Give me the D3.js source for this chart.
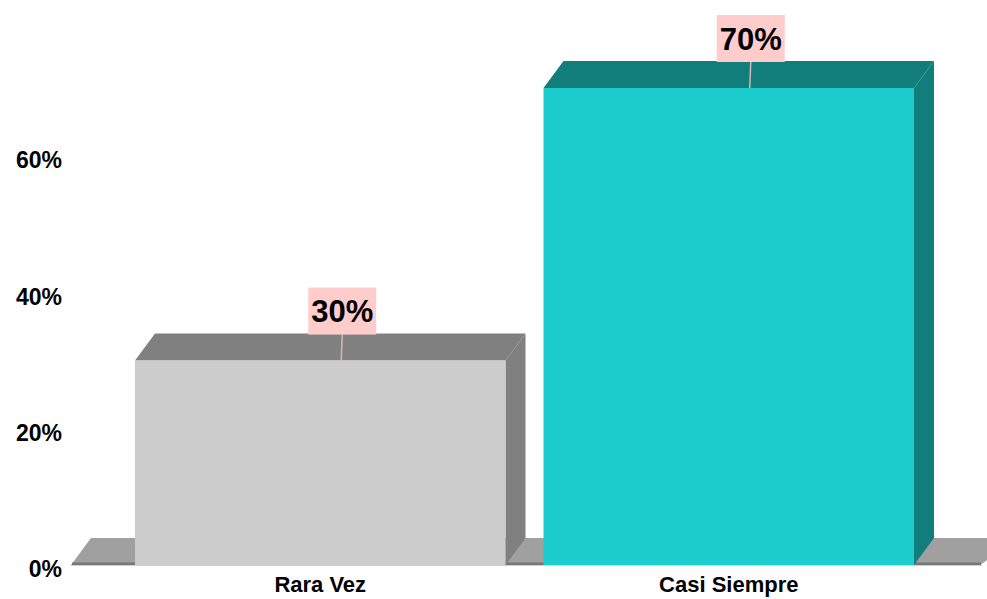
<!DOCTYPE html>
<html>
<head>
<meta charset="utf-8">
<script src="https://cdn.jsdelivr.net/npm/d3@7"></script>
<style>
  html, body { margin: 0; padding: 0; background: #ffffff; }
  svg { display: block; }
  text { font-family: "Liberation Sans", Arial, sans-serif; font-weight: bold; fill: #000; }
</style>
</head>
<body>
<svg id="chart" width="987" height="599"></svg>
<script>
// ---- data ----
const categories = ["Rara Vez", "Casi Siempre"];
const values = [30, 70];
const valueLabels = ["30%", "70%"];
const tickValues = [0, 20, 40, 60];
const tickLabels = ["0%", "20%", "40%", "60%"];
const frontColors = ["#cccccc", "#1ccdcd"];
const sideColors = ["#808080", "#127e7c"];

// ---- layout ----
const W = 987, H = 599;
const DX = 20, DY = 27; // 3D depth offsets
const svg = d3.select("#chart");

const x = d3.scaleBand()
  .domain(categories)
  .range([116, 933])
  .paddingInner(0.093)
  .paddingOuter(0.0465);

const y = d3.scaleLinear().domain([0, 70]).range([565, 88]);

// floor
const fl = x.range()[0] - 45, fr = x.range()[1] + 47, y0 = y(0);
svg.append("polygon")
  .attr("points", [[fl, y0], [fl + DX, y0 - DY], [fr + DX + 20, y0 - DY], [fr, y0]].map(p => p.join(",")).join(" "))
  .attr("fill", "#a0a0a0");
svg.append("rect")
  .attr("x", fl + 1).attr("y", y0 - 2.5).attr("width", fr - fl).attr("height", 2.5)
  .attr("fill", "#777777");
svg.append("line")
  .attr("x1", fl).attr("x2", fr + 2).attr("y1", y0 + 0.5).attr("y2", y0 + 0.5)
  .attr("stroke", "#d0d0d0").attr("stroke-width", 1);

// bars
const bars = svg.selectAll("g.bar").data(categories).enter().append("g").attr("class", "bar");
bars.each(function(c, i) {
  const g = d3.select(this);
  const x0 = x(c), x1 = x(c) + x.bandwidth();
  const yt = y(values[i]);
  g.append("polygon")
    .attr("points", [[x1, yt], [x1 + DX, yt - DY], [x1 + DX, y0 - DY], [x1, y0]].map(p => p.join(",")).join(" "))
    .attr("fill", sideColors[i]);
  g.append("polygon")
    .attr("points", [[x0, yt], [x0 + DX, yt - DY], [x1 + DX, yt - DY], [x1, yt]].map(p => p.join(",")).join(" "))
    .attr("fill", sideColors[i]);
  g.append("rect")
    .attr("x", x0).attr("y", yt).attr("width", x.bandwidth()).attr("height", y0 - yt)
    .attr("fill", frontColors[i]);
});

// value labels
const boxW = 68, boxH = 47;
categories.forEach((c, i) => {
  const cx = x(c) + x.bandwidth() / 2 + 22;
  const yt = y(values[i]);
  const bb = yt - DY + 1;
  svg.append("line")
    .attr("x1", cx).attr("x2", cx - 1).attr("y1", bb).attr("y2", yt)
    .attr("stroke", "#d4b8b8").attr("stroke-width", 1.5);
  svg.append("rect")
    .attr("x", cx - boxW / 2).attr("y", bb - boxH).attr("width", boxW).attr("height", boxH)
    .attr("fill", "#ffcccc");
  svg.append("text")
    .attr("x", cx).attr("y", bb - boxH / 2)
    .attr("dy", "0.36em")
    .attr("text-anchor", "middle")
    .style("font-size", "31px")
    .text(valueLabels[i]);
});

// y tick labels
svg.selectAll("text.ytick").data(tickValues).enter().append("text")
  .attr("class", "ytick")
  .attr("x", 62)
  .attr("y", d => y(d) + 4)
  .attr("dy", "0.36em")
  .attr("text-anchor", "end")
  .style("font-size", "23px")
  .text((d, i) => tickLabels[i]);

// category labels
svg.selectAll("text.xcat").data(categories).enter().append("text")
  .attr("class", "xcat")
  .attr("x", d => x(d) + x.bandwidth() / 2)
  .attr("y", 592)
  .attr("text-anchor", "middle")
  .style("font-size", "22px")
  .text(d => d);
</script>
</body>
</html>
